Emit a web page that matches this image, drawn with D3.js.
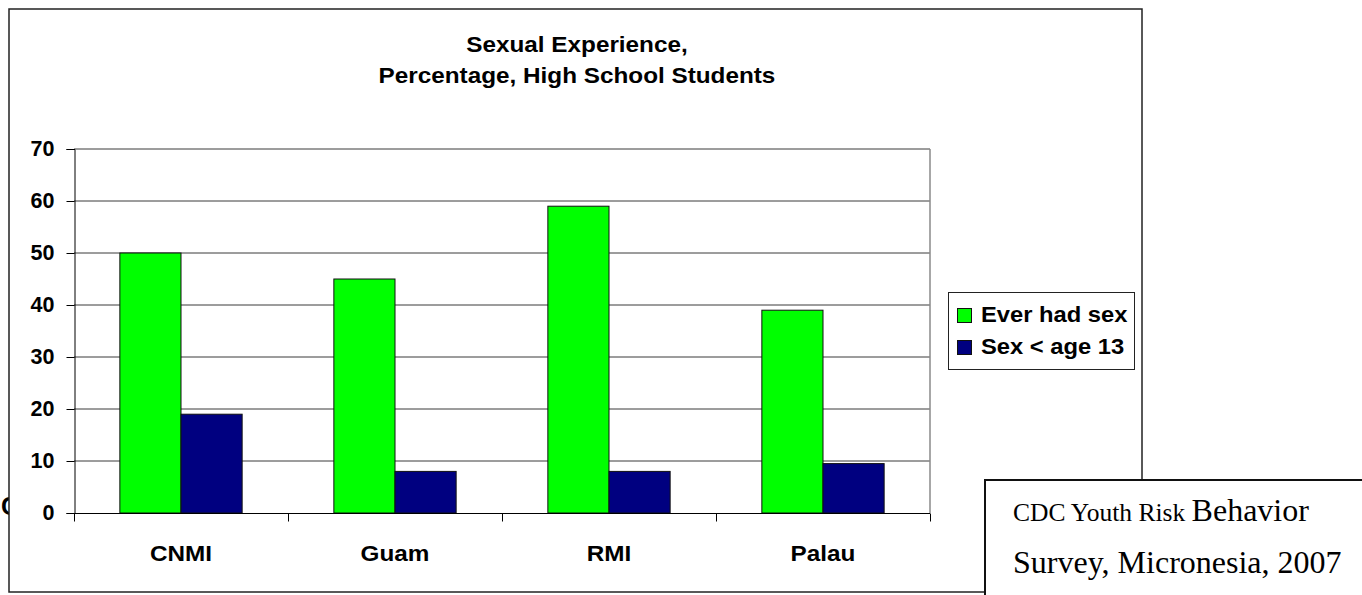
<!DOCTYPE html>
<html lang="en">
<head>
    <meta charset="UTF-8">
    <title>Sexual Experience, Percentage, High School Students</title>
    <script src="https://d3js.org/d3.v7.min.js"></script>
    <style>
        body { margin: 0; background: #fff; }
        text { font-family: Arial, "Liberation Sans", sans-serif; }
        text.serif { font-family: "Liberation Serif", "Times New Roman", serif; }
    </style>
</head>
<body>
    <div id="chart"></div>
    <script>
        // Data
        const categories = ["CNMI", "Guam", "RMI", "Palau"];
        const seriesNames = ["Ever had sex", "Sex < age 13"];
        const everHadSex = [50, 45, 59, 39];
        const sexUnder13 = [19, 8, 8, 9.5];
        const yTicks = [0, 10, 20, 30, 40, 50, 60, 70];
        const colors = ["#00ff00", "#000080"];
        const titleLines = ["Sexual Experience,", "Percentage, High School Students"];

        const W = 1362, H = 595;
        const stretch = 1.08;   // chart text in the picture is slightly wide

        const svg = d3.select("#chart").append("svg")
            .attr("width", W)
            .attr("height", H);

        // stray letter peeking out at the left edge
        svg.append("text")
            .attr("x", 1).attr("y", 515)
            .attr("font-size", 25).attr("font-weight", "bold")
            .text("C");

        // chart frame
        svg.append("rect")
            .attr("x", 9).attr("y", 9)
            .attr("width", 1133).attr("height", 583)
            .attr("fill", "#fff")
            .attr("stroke", "#222")
            .attr("stroke-width", 1.5);

        function label(x, y, txt, size, anchor) {
            return svg.append("text")
                .attr("transform", `translate(${x},${y}) scale(${stretch},1)`)
                .attr("text-anchor", anchor || "start")
                .attr("font-size", size)
                .attr("font-weight", "bold")
                .text(txt);
        }

        // title
        label(577, 52, titleLines[0], 22.5, "middle");
        label(577, 83, titleLines[1], 22.5, "middle");

        // scales
        const x = d3.scaleBand().domain(categories).range([74, 930]).padding(0);
        const xs = d3.scaleBand().domain(seriesNames).range([0, x.bandwidth()])
            .paddingInner(0).paddingOuter(0.75);
        const y = d3.scaleLinear().domain([0, 70]).range([513, 149]);

        // gridlines
        svg.append("g").selectAll("line")
            .data(yTicks.filter(d => d > 0))
            .join("line")
            .attr("x1", 74).attr("x2", 930)
            .attr("y1", d => y(d)).attr("y2", d => y(d))
            .attr("stroke", "#3a3a3a").attr("stroke-width", 1);

        // plot area right border
        svg.append("line")
            .attr("x1", 930).attr("x2", 930)
            .attr("y1", y(70)).attr("y2", y(0))
            .attr("stroke", "#8a8a8a").attr("stroke-width", 1.5);

        // bars
        const rows = categories.map((c, i) => ({cat: c, vals: [everHadSex[i], sexUnder13[i]]}));
        svg.append("g").selectAll("g")
            .data(rows)
            .join("g")
            .attr("transform", d => `translate(${x(d.cat)},0)`)
            .selectAll("rect")
            .data(d => d.vals.map((v, j) => ({s: seriesNames[j], v: v, j: j})))
            .join("rect")
            .attr("x", d => xs(d.s))
            .attr("width", xs.bandwidth())
            .attr("y", d => y(d.v))
            .attr("height", d => y(0) - y(d.v))
            .attr("fill", d => colors[d.j])
            .attr("stroke", "#111")
            .attr("stroke-width", 1);

        // y axis
        const yAxis = svg.append("g")
            .attr("transform", "translate(74.5,0)")
            .call(d3.axisLeft(y).tickValues(yTicks).tickSize(8).tickPadding(12));
        yAxis.select(".domain").attr("stroke", "#000");
        yAxis.selectAll(".tick line").attr("stroke", "#000");
        yAxis.selectAll(".tick text")
            .attr("font-size", 21.5).attr("font-weight", "bold")
            .attr("font-family", null)
            .attr("fill", "#000");

        // x axis: ticks sit at category boundaries
        const xAxis = svg.append("g").attr("transform", "translate(0,513.5)");
        xAxis.append("line")
            .attr("x1", 74).attr("x2", 930)
            .attr("stroke", "#000");
        const bounds = categories.map(c => x(c)).concat([x.range()[1]]);
        xAxis.selectAll(".bt")
            .data(bounds)
            .join("line")
            .attr("class", "bt")
            .attr("x1", d => d + 0.5).attr("x2", d => d + 0.5)
            .attr("y1", 0).attr("y2", 8)
            .attr("stroke", "#000");
        categories.forEach(c => label(x(c) + x.bandwidth() / 2, 561, c, 22.5, "middle"));

        // legend
        svg.append("rect")
            .attr("x", 948.5).attr("y", 292.5)
            .attr("width", 186).attr("height", 77)
            .attr("fill", "#fff")
            .attr("stroke", "#222").attr("stroke-width", 1);
        seriesNames.forEach((s, i) => {
            svg.append("rect")
                .attr("x", 957.5).attr("y", 308.5 + i * 32)
                .attr("width", 14).attr("height", 14)
                .attr("fill", colors[i])
                .attr("stroke", "#111");
            label(981, 322 + i * 32, s, 22);
        });

        // source box in the lower right corner
        svg.append("rect")
            .attr("x", 985).attr("y", 480)
            .attr("width", 400).attr("height", 140)
            .attr("fill", "#fff")
            .attr("stroke", "#111").attr("stroke-width", 2);
        const src1 = svg.append("text")
            .attr("class", "serif")
            .attr("x", 1013).attr("y", 521);
        src1.append("tspan").attr("font-size", 25.5).text("CDC Youth Risk ");
        src1.append("tspan").attr("font-size", 32).text("Behavior");
        svg.append("text")
            .attr("class", "serif")
            .attr("x", 1013).attr("y", 573)
            .attr("font-size", 32)
            .text("Survey, Micronesia, 2007");
    </script>
</body>
</html>
